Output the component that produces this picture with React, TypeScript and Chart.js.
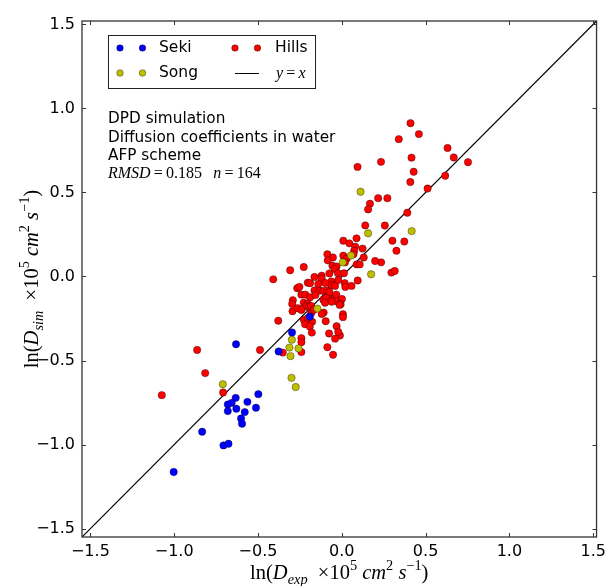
import React, { useEffect, useRef } from 'react';
import { Chart, registerables } from 'chart.js';

Chart.register(...registerables);

// ---- axis settings ----
const AXIS_MIN = -1.55;
const AXIS_MAX = 1.52;
const TICKS = [-1.5, -1.0, -0.5, 0.0, 0.5, 1.0, 1.5];

// ---- series labels ----
const SERIES_LABELS = ['Seki', 'Song', 'Hills', 'y=x'];

// ---- Seki (blue) ----
const sekiX = [-0.191, -0.297, -0.377, -0.631, -0.498, -0.633, -0.563, -0.680, -0.657, -0.629, -0.512, -0.680, -0.579, -0.601, -0.595, -0.833, -0.706, -0.676, -1.003];
const sekiY = [-0.239, -0.333, -0.446, -0.403, -0.700, -0.722, -0.746, -0.762, -0.752, -0.787, -0.781, -0.801, -0.807, -0.845, -0.876, -0.924, -1.005, -0.995, -1.163];

// ---- Song (yellow) ----
const songX = [0.112, 0.157, 0.417, 0.055, 0.006, 0.175, -0.146, -0.298, -0.312, -0.258, -0.306, -0.300, -0.275, -0.710];
const songY = [0.504, 0.257, 0.270, 0.125, 0.084, 0.013, -0.191, -0.376, -0.423, -0.428, -0.474, -0.603, -0.658, -0.641];

// ---- Hills (red) ----
const hillsX = [
  0.410, 0.460, 0.340, 0.416, 0.234, 0.094, 0.429, 0.409, 0.512, 0.217,
  0.272, 0.168, 0.157, 0.391, 0.140, 0.257, 0.302, 0.373, 0.326, 0.235,
  0.296, 0.316, 0.631, 0.668, 0.753, 0.617,
  0.009, 0.045, 0.088, 0.080, 0.124, 0.074, 0.070, 0.009, 0.030, 0.131,
  0.089, 0.107, -0.086, -0.053, -0.084, 0.199,
  -0.227, -0.308, -0.409, -0.056, -0.031, -0.042, -0.023, 0.013, -0.163, -0.120,
  -0.120, -0.074, 0.095, -0.203, -0.189, -0.062, -0.062, 0.018, 0.021, 0.058,
  -0.040, -0.266, -0.163, -0.131, -0.110, -0.089, -0.071, -0.074, -0.241, -0.217,
  -0.189, -0.157, -0.292, -0.296, -0.294, -0.110, -0.094, -0.051, -0.040, -0.033,
  -0.034, 0.001, -0.100, -0.061, -0.007, -0.227, -0.203, -0.213, -0.263, -0.241,
  -0.195, -0.183, -0.013, -0.108, -0.120, 0.007, 0.007, -0.379, -0.227, -0.203,
  -0.177, -0.203, -0.219, -0.191, -0.096, -0.031, -0.179, -0.076, -0.011, -0.040,
  -0.241, -0.241, -0.086, -0.488, -0.352, -0.241, -0.052, -0.863, -0.815, -1.074,
  -0.708, -0.021, -0.183, -0.168, 0.019, -0.140, -0.021, -0.098, -0.253,
];
const hillsY = [
  0.912, 0.847, 0.817, 0.707, 0.682, 0.652, 0.623, 0.562, 0.523, 0.466,
  0.466, 0.433, 0.399, 0.379, 0.304, 0.303, 0.213, 0.208, 0.153, 0.084,
  0.023, 0.033, 0.764, 0.708, 0.680, 0.599,
  0.213, 0.197, 0.227, 0.177, 0.166, 0.153, 0.132, 0.124, 0.107, 0.113,
  0.072, 0.072, 0.132, 0.113, 0.096, 0.092,
  0.056, 0.037, -0.017, 0.064, 0.059, 0.045, 0.019, 0.019, -0.003, 0.005,
  -0.012, 0.018, -0.024, -0.037, -0.040, -0.030, -0.051, -0.040, -0.062, -0.056,
  -0.056, -0.070, -0.083, -0.084, -0.086, -0.084, -0.110, -0.092, -0.108, -0.108,
  -0.124, -0.110, -0.141, -0.163, -0.207, -0.138, -0.128, -0.140, -0.126, -0.108,
  -0.146, -0.134, -0.156, -0.150, -0.165, -0.156, -0.163, -0.179, -0.189, -0.199,
  -0.179, -0.175, -0.169, -0.215, -0.223, -0.225, -0.242, -0.263, -0.258, -0.269,
  -0.269, -0.248, -0.284, -0.298, -0.266, -0.296, -0.334, -0.339, -0.351, -0.370,
  -0.367, -0.391, -0.421, -0.437, -0.453, -0.450, -0.466, -0.437, -0.575, -0.706,
  -0.690, -0.330, -0.219, -0.199, 0.084, -0.045, -0.021, -0.039, -0.062,
];

// ---- annotation text ----
const INFO_LINES = ['DPD simulation', 'Diffusion coefficients in water', 'AFP scheme'];
const RMSD_VALUE = '0.185';
const N_VALUE = '164';

const SANS = '"DejaVu Sans", sans-serif';
const SERIF = '"Liberation Serif", "DejaVu Serif", serif';

const fmt = (v: number) => (v < 0 ? '\u2212' : '') + Math.abs(v).toFixed(1);

type Seg = { t: string; it?: boolean; s?: number; dy?: number };

function segFont(sg: Seg, size: number) {
  const sz = size * (sg.s ?? 1);
  return `${sg.it ? 'italic ' : ''}${sz}px ${SERIF}`;
}

function drawRich(ctx: CanvasRenderingContext2D, segs: Seg[], x: number, y: number, size: number, align: 'left' | 'center') {
  let w = 0;
  segs.forEach((sg) => {
    ctx.font = segFont(sg, size);
    w += ctx.measureText(sg.t).width;
  });
  let cx = align === 'center' ? x - w / 2 : x;
  ctx.textAlign = 'left';
  ctx.textBaseline = 'alphabetic';
  segs.forEach((sg) => {
    ctx.font = segFont(sg, size);
    ctx.fillText(sg.t, cx, y + (sg.dy ?? 0) * size);
    cx += ctx.measureText(sg.t).width;
  });
}

function axisTitle(sub: string): Seg[] {
  return [
    { t: 'ln(' },
    { t: 'D', it: true },
    { t: sub, it: true, s: 0.7, dy: 0.25 },
    { t: '\u2002\u00d710' },
    { t: '5', s: 0.7, dy: -0.42 },
    { t: ' ' },
    { t: 'cm', it: true },
    { t: '2', s: 0.7, dy: -0.42 },
    { t: ' ' },
    { t: 's', it: true },
    { t: '\u22121', s: 0.7, dy: -0.42 },
    { t: ')' },
  ];
}

const decorPlugin = {
  id: 'decor',
  afterDatasetsDraw(chart: any) {
    const { ctx, chartArea: a, scales } = chart;
    const xs = scales.x;
    const ys = scales.y;
    ctx.save();
    ctx.strokeStyle = '#333';
    ctx.lineWidth = 1;
    const seg = (x1: number, y1: number, x2: number, y2: number) => {
      ctx.beginPath();
      ctx.moveTo(x1, y1);
      ctx.lineTo(x2, y2);
      ctx.stroke();
    };
    const TL = 4;
    TICKS.forEach((v) => {
      const px = Math.round(xs.getPixelForValue(v)) + 0.5;
      seg(px, a.bottom, px, a.bottom - TL);
      seg(px, a.top, px, a.top + TL);
      const py = Math.round(ys.getPixelForValue(v)) + 0.5;
      seg(a.left, py, a.left + TL, py);
      seg(a.right, py, a.right - TL, py);
    });
    ctx.lineWidth = 1.3;
    ctx.strokeStyle = '#333';
    ctx.strokeRect(a.left, a.top, a.right - a.left, a.bottom - a.top);
    ctx.restore();
  },
  afterDraw(chart: any) {
    const { ctx, chartArea: a } = chart;
    const ds = chart.data.datasets;
    ctx.save();

    // ---- legend ----
    const L = a.left + 26;
    const T = a.top + 14;
    ctx.fillStyle = '#fff';
    ctx.fillRect(L, T, 207, 53);
    ctx.strokeStyle = '#222';
    ctx.lineWidth = 1;
    ctx.strokeRect(L + 0.5, T + 0.5, 207, 53);
    const entries = [
      { i: 0, mx: L + 12, my: T + 13, tx: L + 51 },
      { i: 1, mx: L + 12, my: T + 38, tx: L + 51 },
      { i: 2, mx: L + 127, my: T + 13, tx: L + 167 },
      { i: 3, mx: L + 127, my: T + 38, tx: L + 168 },
    ];
    entries.forEach((e) => {
      const d = ds[e.i];
      if (e.i < 3) {
        [0, 22.5].forEach((off) => {
          ctx.beginPath();
          ctx.arc(e.mx + off, e.my, 3.3, 0, Math.PI * 2);
          ctx.fillStyle = d.backgroundColor;
          ctx.fill();
          ctx.lineWidth = 0.6;
          ctx.strokeStyle = d.borderColor;
          ctx.stroke();
        });
        ctx.fillStyle = '#000';
        ctx.font = `15.5px ${SANS}`;
        ctx.textAlign = 'left';
        ctx.textBaseline = 'middle';
        ctx.fillText(d.label, e.tx, e.my);
      } else {
        ctx.strokeStyle = d.borderColor;
        ctx.lineWidth = 1;
        ctx.beginPath();
        ctx.moveTo(e.mx, e.my + 0.5);
        ctx.lineTo(e.mx + 24, e.my + 0.5);
        ctx.stroke();
        ctx.fillStyle = '#000';
        const parts = d.label.split('=');
        drawRich(ctx, [{ t: parts[0], it: true }, { t: '\u2009=\u2009' }, { t: parts[1], it: true }], e.tx, e.my + 5, 16, 'left');
      }
    });

    // ---- info text ----
    ctx.fillStyle = '#000';
    ctx.font = `15.3px ${SANS}`;
    ctx.textAlign = 'left';
    ctx.textBaseline = 'alphabetic';
    INFO_LINES.forEach((ln, k) => {
      ctx.fillText(ln, L, a.top + 102 + k * 18.5);
    });
    drawRich(
      ctx,
      [
        { t: 'RMSD', it: true },
        { t: '\u2009=\u2009' },
        { t: RMSD_VALUE },
        { t: '\u2002\u2009' },
        { t: 'n', it: true },
        { t: '\u2009=\u2009' },
        { t: N_VALUE },
      ],
      L,
      a.top + 157,
      16,
      'left'
    );

    // ---- axis titles ----
    ctx.fillStyle = '#000';
    drawRich(ctx, axisTitle('exp'), (a.left + a.right) / 2, 579, 20.5, 'center');
    ctx.translate(38, (a.top + a.bottom) / 2);
    ctx.rotate(-Math.PI / 2);
    drawRich(ctx, axisTitle('sim'), 0, 0, 20.5, 'center');
    ctx.restore();
  },
};

const toPts = (xs: number[], ys: number[]) => xs.map((x, i) => ({ x, y: ys[i] }));

export default function App() {
  const ref = useRef<HTMLCanvasElement>(null);
  useEffect(() => {
    const edge = 'rgba(0,0,0,0.6)';
    const pointStyle = (color: string) => ({
      backgroundColor: color,
      borderColor: edge,
      borderWidth: 0.6,
      pointRadius: 3.7,
      pointHoverRadius: 3.7,
    });
    const tickFont = { family: SANS, size: 16 };
    const chart = new Chart(ref.current as HTMLCanvasElement, {
      type: 'scatter',
      data: {
        datasets: [
          { label: SERIES_LABELS[0], data: toPts(sekiX, sekiY), ...pointStyle('#0000ff') },
          { label: SERIES_LABELS[1], data: toPts(songX, songY), ...pointStyle('#bfbf00') },
          { label: SERIES_LABELS[2], data: toPts(hillsX, hillsY), ...pointStyle('#ff0000') },
          {
            label: SERIES_LABELS[3],
            data: [
              { x: AXIS_MIN, y: AXIS_MIN },
              { x: AXIS_MAX, y: AXIS_MAX },
            ],
            showLine: true,
            borderColor: '#000',
            backgroundColor: '#000',
            borderWidth: 1.2,
            pointRadius: 0,
          } as any,
        ],
      },
      options: {
        animation: false,
        responsive: true,
        maintainAspectRatio: false,
        layout: { padding: { top: 21, right: 13, left: 0, bottom: 0 } },
        plugins: { legend: { display: false }, tooltip: { enabled: false } },
        scales: {
          x: {
            type: 'linear',
            min: AXIS_MIN,
            max: AXIS_MAX,
            grid: { display: false, drawTicks: false },
            border: { display: false },
            ticks: {
              font: tickFont,
              color: '#000',
              padding: 5,
              autoSkip: false,
              maxRotation: 0,
              callback: (v: any) => fmt(Number(v)),
            },
            afterBuildTicks: (s: any) => {
              s.ticks = TICKS.map((value) => ({ value }));
            },
            afterFit: (s: any) => {
              s.height = 49;
            },
          },
          y: {
            type: 'linear',
            min: AXIS_MIN,
            max: AXIS_MAX,
            grid: { display: false, drawTicks: false },
            border: { display: false },
            ticks: {
              font: tickFont,
              color: '#000',
              padding: 7,
              autoSkip: false,
              callback: (v: any) => fmt(Number(v)),
            },
            afterBuildTicks: (s: any) => {
              s.ticks = TICKS.map((value) => ({ value }));
            },
            afterFit: (s: any) => {
              s.width = 82;
            },
          },
        },
      } as any,
      plugins: [decorPlugin],
    });
    return () => chart.destroy();
  }, []);
  return (
    <div style={{ position: 'absolute', left: 0, top: 0, width: 611, height: 586 }}>
      <canvas ref={ref} />
    </div>
  );
}
